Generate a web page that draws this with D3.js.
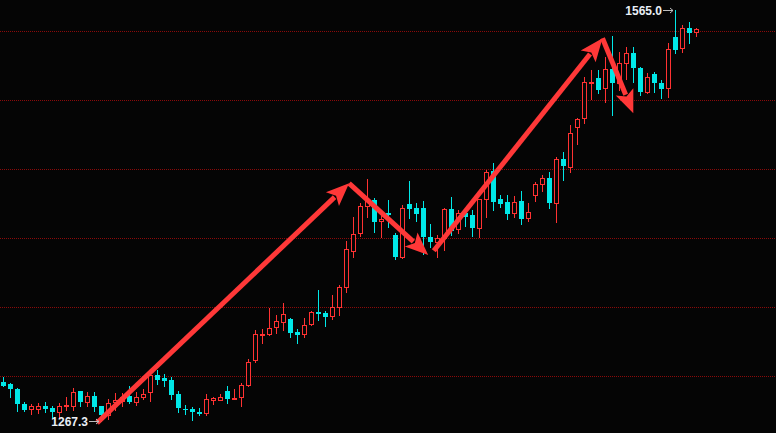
<!DOCTYPE html>
<html><head><meta charset="utf-8">
<script src="https://cdn.jsdelivr.net/npm/d3@7"></script>
<style>html,body{margin:0;padding:0;background:#050505;overflow:hidden}svg{display:block}</style>
</head><body><svg id="c" width="776" height="433"></svg>
<script>
const opens = [1295.7,1294.2,1290.6,1279.9,1275.9,1275.9,1278.1,1276.8,1274.1,1278.3,
1278.5,1288.9,1281.4,1285.5,1278.3,1271.7,1281.4,1282.2,1285.5,1281.4,
1284.6,1288.2,1300.7,1298.8,1297.1,1287.0,1276.4,1276.1,1274.1,1273.4,
1282.8,1282.8,1289.1,1283.6,1285.0,1293.5,1311.6,1329.5,1330.2,1335.7,
1339.3,1341.3,1331.9,1330.2,1337.5,1346.6,1345.6,1343.7,1350.2,1364.3,
1390.8,1403.4,1423.2,1427.5,1412.3,1418.1,1402.2,1386.0,1424.8,1422.0,
1422.0,1400.9,1397.3,1399.8,1420.8,1406.3,1418.3,1416.7,1407.5,1428.0,
1448.5,1428.3,1426.3,1418.3,1426.8,1414.7,1431.4,1439.1,1443.3,1425.1,
1457.2,1451.2,1480.6,1486.7,1512.0,1515.7,1508.5,1522.2,1512.1,1526.6,
1533.8,1523.0,1506.0,1518.8,1512.1,1508.5,1545.4,1537.5,1551.9,1549.0];
const highs = [1299.1,1295.1,1291.0,1281.4,1279.9,1280.2,1280.9,1278.3,1280.2,1285.0,
1291.1,1289.2,1288.4,1288.6,1278.6,1283.6,1287.5,1287.7,1292.8,1288.6,
1290.4,1302.0,1304.3,1301.4,1299.1,1289.1,1279.0,1277.3,1276.8,1287.0,
1284.6,1287.0,1292.8,1290.6,1294.7,1312.1,1333.3,1333.8,1349.1,1344.2,
1353.1,1342.0,1334.1,1342.0,1347.1,1362.3,1347.1,1358.7,1366.2,1398.0,
1415.4,1425.6,1442.7,1428.8,1420.3,1427.5,1403.6,1423.9,1441.3,1425.1,
1426.8,1410.1,1402.2,1421.7,1429.9,1420.3,1421.5,1420.3,1428.5,1449.3,
1454.1,1431.2,1431.2,1430.4,1434.1,1425.1,1440.4,1445.3,1447.8,1458.5,
1462.5,1481.9,1486.7,1516.9,1521.7,1521.7,1531.4,1546.4,1535.0,1538.2,
1538.6,1524.2,1519.3,1520.5,1514.5,1541.1,1565.0,1554.3,1556.7,1552.4];
const lows = [1292.8,1285.0,1274.9,1274.9,1272.7,1273.0,1273.9,1269.3,1269.3,1275.4,
1275.4,1278.5,1278.5,1274.9,1267.3,1268.6,1275.4,1278.5,1280.2,1279.0,
1283.1,1282.1,1294.2,1293.0,1283.6,1274.1,1272.5,1268.1,1271.5,1272.0,
1279.7,1282.6,1280.7,1283.5,1278.5,1292.8,1310.1,1324.1,1329.5,1330.9,
1333.3,1328.5,1323.7,1328.5,1336.7,1340.6,1336.2,1341.5,1344.2,1361.1,
1386.0,1401.4,1415.0,1404.6,1400.9,1408.2,1384.6,1385.5,1414.3,1412.5,
1388.2,1393.7,1386.4,1391.3,1402.2,1403.8,1408.9,1401.4,1400.9,1415.4,
1420.3,1422.7,1413.5,1415.4,1410.1,1412.3,1427.0,1434.3,1422.0,1411.8,
1442.0,1448.0,1467.9,1483.5,1500.7,1504.8,1498.8,1489.1,1507.2,1515.2,
1513.3,1503.6,1504.8,1506.0,1501.2,1501.9,1533.8,1535.0,1541.1,1546.6];
const closes = [1293.0,1290.4,1279.5,1275.4,1278.3,1278.3,1276.1,1274.1,1278.3,1279.0,
1288.4,1281.2,1285.5,1277.8,1271.7,1280.2,1282.6,1285.1,1281.4,1284.6,
1287.0,1300.7,1297.1,1296.6,1286.5,1277.0,1275.6,1274.1,1272.7,1283.1,
1283.8,1284.6,1283.6,1284.3,1293.5,1310.1,1330.2,1330.2,1334.6,1339.9,
1344.9,1331.4,1329.7,1336.7,1346.2,1344.9,1343.0,1349.8,1364.3,1392.0,
1402.9,1423.2,1426.8,1411.8,1413.8,1417.0,1386.0,1421.5,1421.0,1417.6,
1400.9,1397.3,1399.8,1420.8,1405.1,1417.9,1415.4,1407.5,1428.0,1447.6,
1426.3,1424.6,1417.6,1425.9,1413.8,1418.6,1439.1,1443.3,1425.6,1457.2,
1452.4,1475.9,1486.0,1512.8,1512.8,1507.2,1522.2,1512.1,1527.0,1533.8,
1523.0,1505.6,1516.9,1512.5,1507.7,1536.7,1536.2,1551.9,1548.3,1551.2];
const gridLevels = [1300, 1350, 1400, 1450, 1500, 1550];
// trend arrows: [candle index, price]
const arrowFrom = [[13.4, 1266.0], [49.4, 1439.6], [61.5, 1390.8], [85.6, 1544.7]];
const arrowTo   = [[49.4, 1439.6], [60.7, 1387.7], [85.6, 1544.7], [90.0, 1490.4]];

const W = 776, H = 433;
const BG = '#050505', UP = '#ff3232', DOWN = '#00e8e8', GRID = '#8a0a0a';
const svg = d3.select('#c');
svg.append('rect').attr('width', W).attr('height', H).attr('fill', BG);

const n = opens.length;
const x = d3.scaleLinear().domain([0, n - 1]).range([3.3, 696.3]);
const y = d3.scaleLinear().domain([1300, 1550]).range([376, 31]);

// grid
svg.append('g').selectAll('line').data(gridLevels).join('line')
  .attr('x1', 0).attr('x2', W)
  .attr('y1', d => Math.round(y(d)) + 0.5).attr('y2', d => Math.round(y(d)) + 0.5)
  .attr('stroke', GRID).attr('stroke-width', 1).attr('stroke-dasharray', '1 1')
  .attr('shape-rendering', 'crispEdges');

const data = d3.range(n).map(i => ({i, o: opens[i], h: highs[i], l: lows[i], c: closes[i]}));
const g = svg.append('g');
const cx = d => Math.floor(x(d.i)) + 0.5;

g.selectAll('line.wick').data(data).join('line').attr('class', 'wick')
  .attr('x1', cx).attr('x2', cx)
  .attr('y1', d => Math.round(y(d.h))).attr('y2', d => Math.round(y(d.l)) + 1)
  .attr('stroke', d => d.c >= d.o ? UP : DOWN).attr('stroke-width', 1)
  .attr('shape-rendering', 'crispEdges');

g.selectAll('rect.up').data(data.filter(d => d.c >= d.o)).join('rect').attr('class', 'up')
  .attr('x', d => cx(d) - 2).attr('width', 4)
  .attr('y', d => Math.round(y(d.c)) + 0.5)
  .attr('height', d => Math.max(Math.round(y(d.o)) - Math.round(y(d.c)), 1))
  .attr('fill', BG).attr('stroke', UP).attr('stroke-width', 1)
  .attr('shape-rendering', 'crispEdges');

g.selectAll('rect.down').data(data.filter(d => d.c < d.o)).join('rect').attr('class', 'down')
  .attr('x', d => cx(d) - 2.5).attr('width', 5)
  .attr('y', d => Math.round(y(d.o)))
  .attr('height', d => Math.max(Math.round(y(d.c)) - Math.round(y(d.o)), 1))
  .attr('fill', DOWN)
  .attr('shape-rendering', 'crispEdges');

// trend arrows
const ARROW = '#ff3838', HL = 23, HW = 19;
const ag = svg.append('g');
arrowFrom.forEach((f, k) => {
  const t = arrowTo[k];
  const x1 = x(f[0]), y1 = y(f[1]), x2 = x(t[0]), y2 = y(t[1]);
  const dx = x2 - x1, dy = y2 - y1, len = Math.hypot(dx, dy);
  const ux = dx / len, uy = dy / len;
  const bx = x2 - ux * HL, by = y2 - uy * HL;
  ag.append('line').attr('x1', x1).attr('y1', y1).attr('x2', bx + ux * 3).attr('y2', by + uy * 3)
    .attr('stroke', ARROW).attr('stroke-width', 5);
  ag.append('path')
    .attr('d', `M${x2},${y2}L${bx - uy * HW / 2},${by + ux * HW / 2}L${bx + ux * 5},${by + uy * 5}L${bx + uy * HW / 2},${by - ux * HW / 2}Z`)
    .attr('fill', ARROW);
});

// max / min markers
const iMax = d3.maxIndex(highs), iMin = d3.minIndex(lows);
function marker(i, v) {
  const px = Math.floor(x(i)), py = Math.round(y(v)) + 0.5;
  const tip = px - 2, start = px - 12;
  svg.append('line').attr('x1', start).attr('x2', tip).attr('y1', py).attr('y2', py)
    .attr('stroke', '#bdbdbd').attr('stroke-width', 1);
  svg.append('path').attr('d', `M${tip - 3},${py - 2.5}L${tip},${py}L${tip - 3},${py + 2.5}`)
    .attr('fill', 'none').attr('stroke', '#bdbdbd').attr('stroke-width', 1);
  svg.append('text').attr('x', start - 1).attr('y', py + 4.5)
    .attr('text-anchor', 'end')
    .attr('font-family', '"Liberation Sans", Arial, sans-serif').attr('font-weight', 'bold')
    .attr('font-size', 12).attr('fill', '#e8eef6')
    .text(v.toFixed(1));
}
marker(iMax, highs[iMax]);
marker(iMin, lows[iMin]);
</script></body></html>
